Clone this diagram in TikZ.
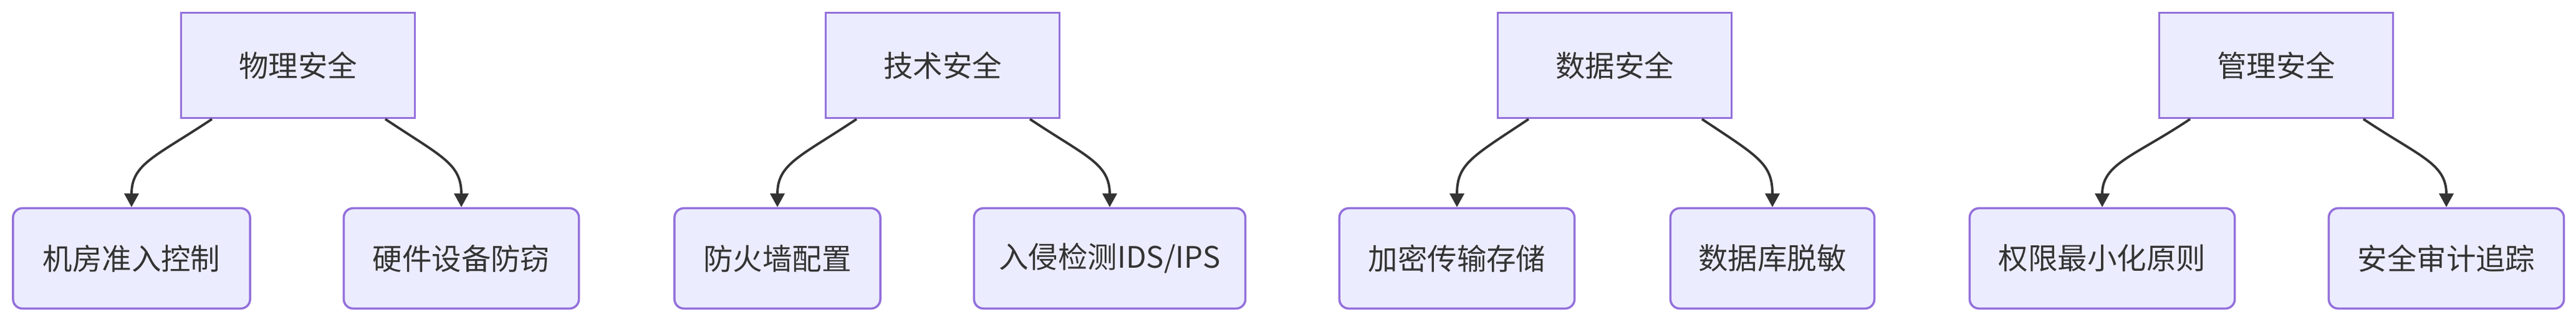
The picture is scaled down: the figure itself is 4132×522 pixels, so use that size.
\documentclass[tikz,border=0pt]{standalone}
\usepackage{fontspec}
\setmainfont{Noto Sans CJK SC}
\usetikzlibrary{calc}
\usetikzlibrary{arrows.meta}

\definecolor{boxfill}{HTML}{ECECFF}
\definecolor{boxline}{HTML}{9370DB}
\definecolor{arrowcol}{HTML}{333333}

\tikzset{
  topbox/.style={draw=boxline, fill=boxfill, line width=1pt, minimum width=3.75cm,
    minimum height=1.69cm, font=\fontsize{13.5}{16}\selectfont, text=arrowcol},
  leafbox/.style={topbox, minimum height=1.61cm, rounded corners=0.15cm},
  link/.style={draw=arrowcol, line width=1.1pt, -{Triangle[length=0.22cm, width=0.23cm]}},
}

\begin{document}
\begin{tikzpicture}[x=0.01cm, y=0.01cm]
  \useasboundingbox (0,0) rectangle (4132,522);
  % top row
  \node[topbox] (phys) at (478,417) {物理安全};
  \node[topbox] (tech) at (1512,417) {技术安全};
  \node[topbox] (data) at (2590,417) {数据安全};
  \node[topbox] (mgmt) at (3651,417) {管理安全};
  % leaves
  \node[leafbox, minimum width=3.8cm] (room) at (211,107) {机房准入控制};
  \node[leafbox, minimum width=3.77cm] (hw) at (740,107) {硬件设备防窃};
  \node[leafbox, minimum width=3.3cm] (fw) at (1247,107) {防火墙配置};
  \node[leafbox, minimum width=4.35cm] (ids) at (1780,107) {入侵检测IDS/IPS};
  \node[leafbox, minimum width=3.77cm] (enc) at (2337,107) {加密传输存储};
  \node[leafbox, minimum width=3.27cm] (mask) at (2843,107) {数据库脱敏};
  \node[leafbox, minimum width=4.25cm] (priv) at (3372,107) {权限最小化原则};
  \node[leafbox, minimum width=3.77cm] (audit) at (3924,107) {安全审计追踪};
  % links
  \foreach \p/\l/\r in {phys/room/hw, tech/fw/ids, data/enc/mask, mgmt/priv/audit} {
    \draw[link] ($(\p.south)+(-138,0)$) .. controls +(-90,-60) and +(0,70) .. (\l.north);
    \draw[link] ($(\p.south)+(140,0)$) .. controls +(90,-60) and +(0,70) .. (\r.north);
  }
\end{tikzpicture}
\end{document}
